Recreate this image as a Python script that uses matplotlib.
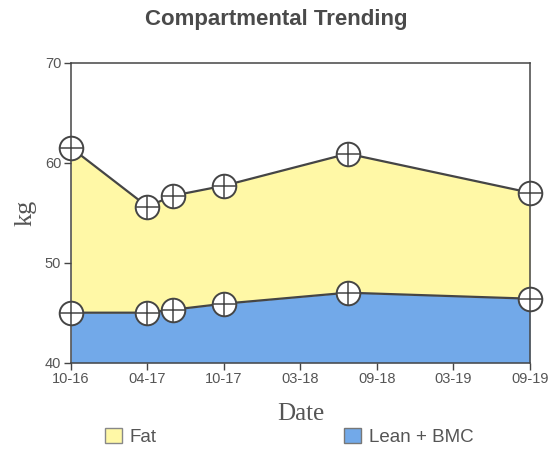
import matplotlib
matplotlib.use("Agg")
import matplotlib.pyplot as plt
from matplotlib.patches import Patch

# months since Oct 2016
months = [0, 6, 8, 12, 21.7, 36]
lean_bmc = [45.0, 45.0, 45.3, 45.9, 47.0, 46.4]
total = [61.5, 55.6, 56.7, 57.7, 60.9, 57.0]

tick_months = [0, 6, 12, 18, 24, 30, 36]
tick_labels = ['10-16', '04-17', '10-17', '03-18', '09-18', '03-19', '09-19']

fat_color = '#fff8a6'
lean_color = '#72a9e9'
line_color = '#454545'
text_color = '#555555'

plt.rcParams['font.family'] = ['Liberation Sans', 'DejaVu Sans']

fig = plt.figure(figsize=(5.52, 4.55), dpi=100)
ax = fig.add_axes([0.1286, 0.2029, 0.8315, 0.6593])

# stacked areas
ax.fill_between(months, 40, lean_bmc, color=lean_color, lw=0)
ax.fill_between(months, lean_bmc, total, color=fat_color, lw=0)

for series in (lean_bmc, total):
    ax.plot(months, series, color=line_color, lw=1.6, zorder=3)
    ax.plot(months, series, 'o', ms=17, mfc='white', mec=line_color, mew=1.4,
            zorder=4, clip_on=False)
    ax.plot(months, series, '+', ms=17, mec=line_color, mew=1.1,
            zorder=5, clip_on=False)

ax.set_xlim(0, 36)
ax.set_ylim(40, 70)
ax.set_xticks(tick_months)
ax.set_xticklabels(tick_labels)
ax.set_yticks([40, 50, 60, 70])
ax.tick_params(colors=line_color, labelcolor=text_color, labelsize=10.5, length=5, width=1, pad=2)

for s in ax.spines.values():
    s.set_color(line_color)
    s.set_linewidth(1.1)

ax.set_ylabel('kg', family=['Liberation Serif'], fontsize=19, color=text_color, labelpad=6)
ax.set_xlabel('Date', family=['Liberation Serif'], fontsize=18, color=text_color, labelpad=12)

fig.text(0.5, 0.958, 'Compartmental Trending', ha='center', va='center',
         fontsize=16, fontweight='bold', color='#4a4a4a')

# legend, two entries spread apart
fig.legend(handles=[Patch(facecolor=fat_color, edgecolor='#888888', label='Fat')],
           loc='center left', bbox_to_anchor=(0.16, 0.04), frameon=False,
           fontsize=13.5, handlelength=0.9, handleheight=0.9, handletextpad=0.4,
           labelcolor=text_color)
fig.legend(handles=[Patch(facecolor=lean_color, edgecolor='#777777', label='Lean + BMC')],
           loc='center left', bbox_to_anchor=(0.593, 0.04), frameon=False,
           fontsize=13.5, handlelength=0.9, handleheight=0.9, handletextpad=0.4,
           labelcolor=text_color)

fig.savefig('out.png', dpi=100)
